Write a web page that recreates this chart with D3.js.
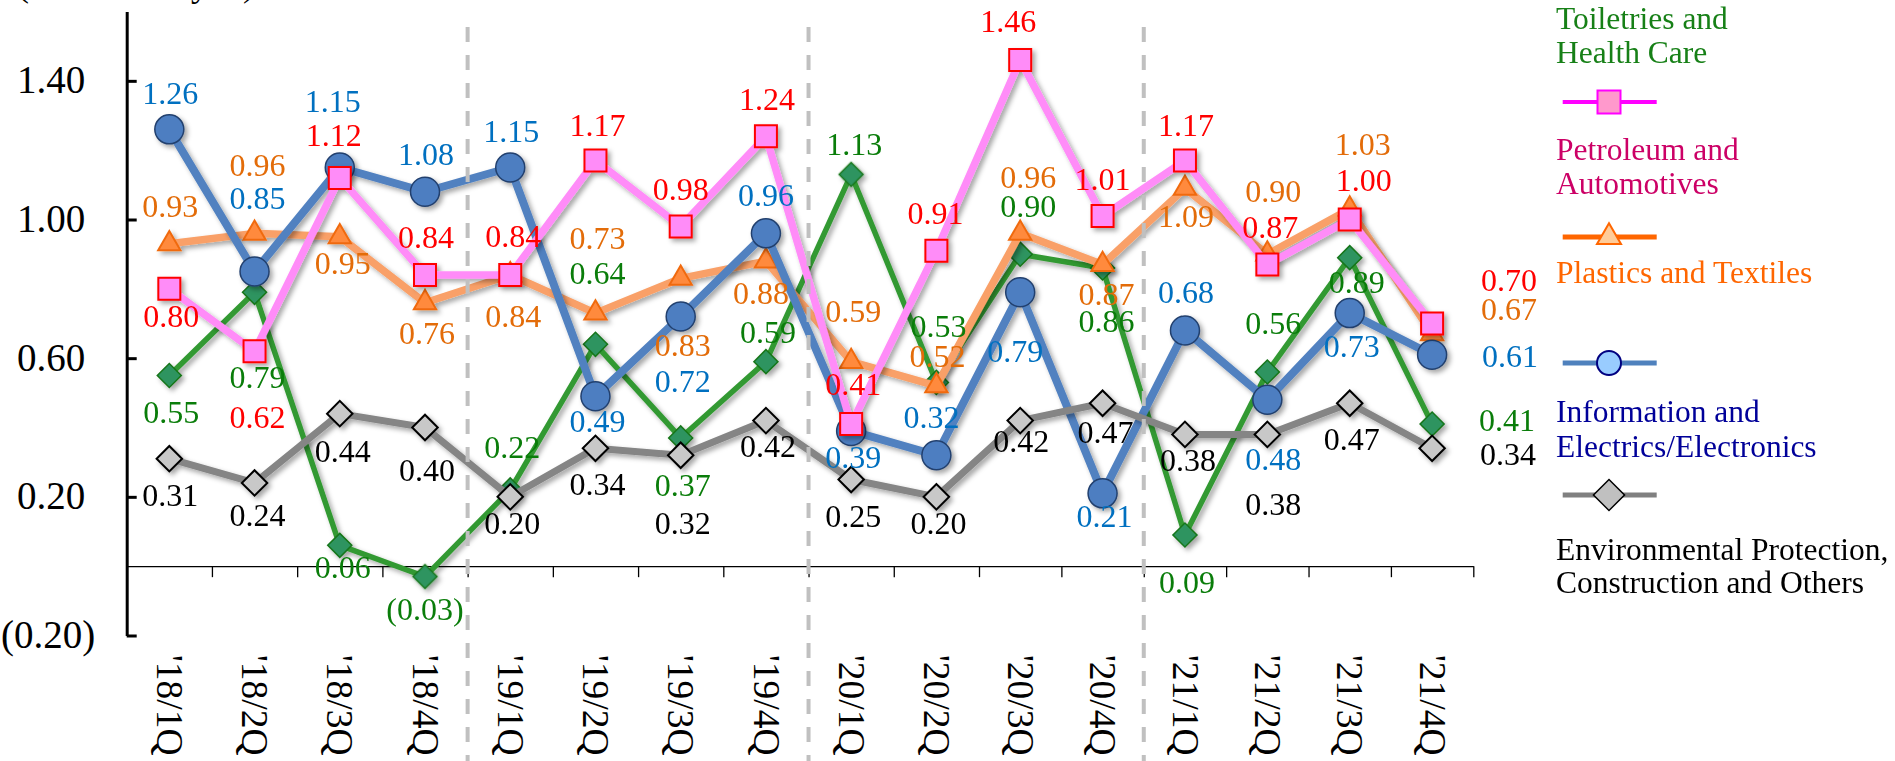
<!DOCTYPE html>
<html><head><meta charset="utf-8">
<script src="https://cdn.jsdelivr.net/npm/d3@7"></script>
<style>
html,body{margin:0;padding:0;background:#fff;overflow:hidden}
svg{display:block;font-family:"Liberation Serif","Times New Roman",serif}
</style>
</head><body>
<svg id="chart" width="1895" height="761" font-family="Liberation Serif, Times New Roman, serif"></svg>
<script>
// ---------------- DATA ----------------
const categories = ["'18/1Q","'18/2Q","'18/3Q","'18/4Q","'19/1Q","'19/2Q","'19/3Q","'19/4Q",
                    "'20/1Q","'20/2Q","'20/3Q","'20/4Q","'21/1Q","'21/2Q","'21/3Q","'21/4Q"];
const toiletries    = [0.55, 0.79, 0.06, -0.03, 0.22, 0.64, 0.37, 0.59, 1.13, 0.53, 0.90, 0.86, 0.09, 0.56, 0.89, 0.41];
const petroleum     = [0.80, 0.62, 1.12, 0.84, 0.84, 1.17, 0.98, 1.24, 0.41, 0.91, 1.46, 1.01, 1.17, 0.87, 1.00, 0.70];
const plastics      = [0.93, 0.96, 0.95, 0.76, 0.84, 0.73, 0.83, 0.88, 0.59, 0.52, 0.96, 0.87, 1.09, 0.90, 1.03, 0.67];
const information   = [1.26, 0.85, 1.15, 1.08, 1.15, 0.49, 0.72, 0.96, 0.39, 0.32, 0.79, 0.21, 0.68, 0.48, 0.73, 0.61];
const environmental = [0.31, 0.24, 0.44, 0.40, 0.20, 0.34, 0.32, 0.42, 0.25, 0.20, 0.42, 0.47, 0.38, 0.38, 0.47, 0.34];
const seriesNames = [
  ["Toiletries and", "Health Care"],
  ["Petroleum and", "Automotives"],
  ["Plastics and Textiles"],
  ["Information and", "Electrics/Electronics"],
  ["Environmental Protection,", "Construction and Others"]
];
const yTickValues = [-0.2, 0.2, 0.6, 1.0, 1.4];
const yAxisTitle = "(Billions of yen)";
const separatorAfter = [4, 8, 12];

// ---------------- LAYOUT (label placement offsets, px) ----------------
const offToiletries = [[2,47],[3,96],[3,33],[0,43],[2,-32],[2,-60],[2,58],[2,-19],[3,-19],[2,-45],[8,-37],[4,64],[2,58],[6,-38],[7,35],[75,7]];
const offPetroleum  = [[2,38],[3,77],[-6,-32],[1,-27],[3,-28],[2,-25],[0,-26],[1,-26],[2,-29],[-1,-27],[-12,-28],[0,-26],[1,-25],[3,-27],[14,-29],[77,-33]];
const offPlastics   = [[1,-27],[3,-57],[3,37],[2,41],[3,52],[2,-64],[2,78],[-5,43],[2,-40],[1,-19],[8,-45],[4,40],[1,39],[6,-52],[13,-54],[77,-14]];
const offInfo       = [[1,-25],[3,-63],[-7,-56],[1,-27],[1,-26],[2,36],[2,75],[0,-27],[2,37],[-5,-27],[-5,70],[2,34],[1,-27],[6,70],[2,44],[78,12]];
const offEnv        = [[1,47],[3,43],[3,48],[2,53],[2,37],[2,47],[2,79],[2,36],[2,47],[2,37],[1,31],[3,40],[3,37],[6,81],[2,47],[76,17]];

const svg = d3.select('#chart');
const FONT = '"Liberation Serif","Times New Roman",serif';

const defs = svg.append('defs');
const flt = defs.append('filter').attr('id','shadow')
  .attr('filterUnits','userSpaceOnUse').attr('x',0).attr('y',0).attr('width',1895).attr('height',761);
flt.append('feDropShadow').attr('dx',3).attr('dy',3).attr('stdDeviation',2.5)
  .attr('flood-color','#000').attr('flood-opacity',0.35);

// scales
const xb = d3.scaleLinear().domain([0,10,16]).range([126.7,979,1473.3]);
const cx = i => xb(i + 0.5);
const y = d3.scaleLinear().domain([-0.2,1.6]).range([635.5,11.5]);

const fmtVal = v => v < 0 ? '(' + d3.format('.2f')(-v) + ')' : d3.format('.2f')(v);

// axis title (mostly cut off at top)
svg.append('text').attr('x',17).attr('y',-4).attr('font-size',36).attr('fill','#000').text(yAxisTitle);

// y axis
const gy = svg.append('g').attr('transform','translate(126.7,0)')
  .call(d3.axisLeft(y).tickValues(yTickValues).tickSizeInner(-10).tickSizeOuter(0).tickFormat(fmtVal));
gy.attr('font-family', FONT).attr('font-size', null);
gy.select('.domain').attr('stroke','#000').attr('stroke-width',3);
gy.selectAll('.tick line').attr('stroke','#000').attr('stroke-width',3);
gy.selectAll('.tick text').attr('font-size',39).attr('fill','#000')
  .attr('x', d => d < 0 ? -31.5 : -41.5).attr('dy','0.31em');

// x axis
const gx = svg.append('g').attr('transform',`translate(0,${y(0)})`)
  .call(d3.axisBottom(xb).tickValues(d3.range(17)).tickSizeInner(11).tickSizeOuter(0).tickFormat(''));
gx.select('.domain').attr('stroke','#000').attr('stroke-width',1.3);
gx.selectAll('.tick line').attr('stroke','#000').attr('stroke-width',1.3);

// category labels
svg.append('g').selectAll('text').data(categories).join('text')
  .attr('transform',(d,i)=>`translate(${cx(i)},655) rotate(90)`)
  .attr('dy','0.33em').attr('font-size',37.5).attr('fill','#000').text(d=>d);

// series
const diamond = s => d3.symbol(d3.symbolSquare, s*s)();
const series = [
  {vals: toiletries, off: offToiletries, line:'#339933', lw:5.5, shape:'diamond', side:17, fill:'#2E9460', stroke:'#17761A', sw:1.5, label:'#0A7D0A'},
  {vals: plastics, off: offPlastics, line:'#F9A067', lw:7.5, shape:'triangle', area:215, fill:'#FF8A3D', stroke:'#F06A10', sw:2, label:'#E36C09'},
  {vals: information, off: offInfo, line:'#5181C0', lw:8, shape:'circle', r:14.5, fill:'#4D7EC1', stroke:'#22406E', sw:1.5, label:'#0070C0'},
  {vals: environmental, off: offEnv, line:'#858585', lw:7, shape:'diamond', side:18, fill:'#C8C8C8', stroke:'#000', sw:2, label:'#000'},
  {vals: petroleum, off: offPetroleum, line:'#FF8CF8', lw:7.5, shape:'square', area:484, fill:'#FF8CF8', stroke:'#FF0000', sw:2, label:'#FF0000'}
];

const lineGen = d3.line().x((d,i)=>cx(i)).y(d=>y(d));

function markerPath(s){
  if (s.shape==='diamond') return diamond(s.side);
  if (s.shape==='triangle') return d3.symbol(d3.symbolTriangle, s.area)();
  if (s.shape==='square') return d3.symbol(d3.symbolSquare, s.area)();
  return d3.symbol(d3.symbolCircle, Math.PI*s.r*s.r)();
}

series.forEach(s => {
  const g = svg.append('g').attr('filter','url(#shadow)');
  g.append('path').datum(s.vals).attr('d', lineGen).attr('fill','none')
    .attr('stroke', s.line).attr('stroke-width', s.lw).attr('stroke-linejoin','round');
  g.selectAll('path.m').data(s.vals).join('path').attr('class','m')
    .attr('d', markerPath(s))
    .attr('transform',(d,i)=>`translate(${cx(i)},${y(d)})` + (s.shape==='diamond' ? ' rotate(45)' : ''))
    .attr('fill', s.fill).attr('stroke', s.stroke).attr('stroke-width', s.sw);
});

// dashed year separators
svg.append('g').selectAll('line').data(separatorAfter).join('line')
  .attr('x1', d=>xb(d)).attr('x2', d=>xb(d)).attr('y1',27).attr('y2',761)
  .attr('stroke','#C0C0C0').attr('stroke-width',4).attr('stroke-dasharray','15,13');

// data labels
series.forEach(s => {
  svg.append('g').selectAll('text').data(s.vals).join('text')
    .attr('x',(d,i)=>cx(i) + s.off[i][0]).attr('y',(d,i)=>y(d) + s.off[i][1])
    .attr('text-anchor','middle').attr('font-size',32).attr('fill', s.label)
    .text(d => fmtVal(d));
});

// legend
const legend = [
  {row:-29, base:[29,63], txt:'#178017', line:'#339933', lw:5, shape:'diamond', side:22, fill:'#339966', stroke:'#006600', sw:1.5},
  {row:102, base:[160,194], txt:'#CC0066', line:'#FF00FF', lw:4, shape:'square', area:529, fill:'#FF99CC', stroke:'#FF00FF', sw:2},
  {row:237, base:[283], txt:'#FF6600', line:'#FF6600', lw:5, shape:'triangle', area:250, fill:'#FFCC99', stroke:'#FF6600', sw:2},
  {row:363, base:[422,457], txt:'#000099', line:'#4F81BD', lw:5, shape:'circle', r:12, fill:'#99CCFF', stroke:'#000080', sw:2},
  {row:495, base:[560,593], txt:'#000000', line:'#808080', lw:5, shape:'diamond', side:22, fill:'#C0C0C0', stroke:'#000', sw:1.5}
];
legend.forEach((L, k) => {
  const g = svg.append('g');
  g.append('line').attr('x1',1562.7).attr('x2',1656.7).attr('y1',L.row).attr('y2',L.row)
    .attr('stroke',L.line).attr('stroke-width',L.lw);
  g.append('path').attr('d', markerPath(L))
    .attr('transform',`translate(1609,${L.row})` + (L.shape==='diamond' ? ' rotate(45)' : ''))
    .attr('fill',L.fill).attr('stroke',L.stroke).attr('stroke-width',L.sw);
  seriesNames[k].forEach((t, j) => {
    g.append('text').attr('x',1556).attr('y',L.base[j]).attr('font-size',31.5).attr('fill',L.txt).text(t);
  });
});
</script>
</body></html>
